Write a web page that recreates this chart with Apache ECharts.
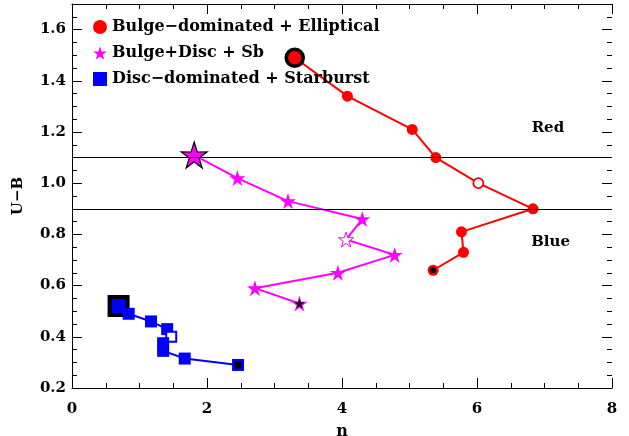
<!DOCTYPE html>
<html>
<head>
<meta charset="utf-8">
<script src="https://cdn.jsdelivr.net/npm/echarts@6/dist/echarts.min.js"></script>
<style>
  html, body { margin: 0; padding: 0; background: #fff; }
  #chart { width: 629px; height: 436px; }
</style>
</head>
<body>
<div id="chart"></div>
<script>
// data
const seriesNames = ['Bulge−dominated + Elliptical', 'Bulge+Disc + Sb', 'Disc−dominated + Starburst'];
const ellN = [3.30, 4.08, 5.04, 5.39, 6.02, 6.83, 5.77, 5.80, 5.35];
const ellUB = [1.49, 1.34, 1.21, 1.10, 1.00, 0.90, 0.81, 0.73, 0.66];
const sbN = [1.81, 2.45, 3.20, 4.30, 4.06, 4.78, 3.94, 2.71, 3.37];
const sbUB = [1.11, 1.02, 0.93, 0.86, 0.78, 0.72, 0.65, 0.59, 0.53];
const burstN = [0.69, 0.84, 1.17, 1.41, 1.47, 1.35, 1.35, 1.67, 2.46];
const burstUB = [0.52, 0.49, 0.46, 0.43, 0.40, 0.375, 0.345, 0.315, 0.29];
const cutLines = [1.1, 0.9];
const zoneNames = ['Red', 'Blue'];

const FONT = 'DejaVu Serif';
const STAR = 'path://M50 0 L61.17 34.63 L97.55 34.55 L68.07 55.87 L79.39 90.45 L50 69 L20.61 90.45 L31.93 55.87 L2.45 34.55 L38.83 34.63 Z';

const chart = echarts.init(document.getElementById('chart'));

// one track: big first point, one open point, black-centred last point
function track(name, xs, ys, color, symbol, size, sty) {
    const last = xs.length - 1;
    const data = xs.map((x, i) => {
        const d = { value: [x, ys[i]] };
        if (i === 0) {
            d.symbolSize = sty.bigSize;
            d.itemStyle = { color: color, borderColor: '#000', borderWidth: sty.bigBorder };
        } else if (i === 4) {
            d.symbolSize = sty.openSize;
            d.itemStyle = { color: '#fff', borderColor: color, borderWidth: sty.openBorder };
        }
        return d;
    });
    return [
        {
            name: name,
            type: 'line',
            data: data,
            symbol: symbol,
            symbolSize: size,
            showAllSymbol: true,
            itemStyle: { color: color, opacity: 1 },
            lineStyle: { color: color, width: 2 },
            z: 3
        },
        {
            name: name + ' end',
            type: 'scatter',
            data: [[xs[last], ys[last]]],
            symbol: symbol,
            symbolSize: sty.dotSize,
            itemStyle: { color: '#000', opacity: 1 },
            silent: true,
            z: 4
        }
    ];
}

const ell = track(seriesNames[0], ellN, ellUB, '#ff0000', 'circle', 11,
    { bigSize: 17, bigBorder: 3.5, openSize: 10, openBorder: 1.8, dotSize: 6 });
const sb = track(seriesNames[1], sbN, sbUB, '#ff00ff', STAR, 16,
    { bigSize: 26, bigBorder: 1.2, openSize: 15, openBorder: 1, dotSize: 10 });
const burst = track(seriesNames[2], burstN, burstUB, '#0000ff', 'rect', 12,
    { bigSize: 18, bigBorder: 4, openSize: 10, openBorder: 2, dotSize: 7 });

// horizontal cuts and the Red / Blue words
ell[0].markLine = {
    silent: true,
    symbol: ['none', 'none'],
    label: { show: false },
    lineStyle: { color: '#000', width: 1, type: 'solid' },
    data: cutLines.map(v => ({ yAxis: v }))
};
ell[0].markPoint = {
    silent: true,
    symbol: 'circle',
    symbolSize: 0,
    label: {
        show: true, position: 'inside', color: '#000',
        fontFamily: FONT, fontWeight: 'bold', fontSize: 15, formatter: p => p.name
    },
    data: [
        { name: zoneNames[0], coord: [7.05, 1.215] },
        { name: zoneNames[1], coord: [7.09, 0.77] }
    ]
};

const tickLine = { color: '#000', width: 1 };
const txt = { color: '#000', fontFamily: FONT, fontWeight: 'bold', fontSize: 15 };

function yAx(pos, step, len, labels) {
    return {
        type: 'value',
        position: pos,
        min: 0.2,
        max: 1.7,
        interval: step,
        axisLine: { show: labels, lineStyle: { color: '#000', width: 1 } },
        axisTick: { show: true, inside: true, length: len, lineStyle: tickLine },
        axisLabel: Object.assign({
            show: labels, showMaxLabel: false, margin: 6,
            formatter: v => v.toFixed(1)
        }, txt),
        splitLine: { show: false },
        name: labels ? 'U−B' : '',
        nameLocation: 'middle',
        nameGap: 46,
        nameTextStyle: txt
    };
}

function xAx(pos, labels) {
    return {
        type: 'value',
        position: pos,
        min: 0,
        max: 8,
        interval: 2,
        axisLine: { show: true, lineStyle: { color: '#000', width: 1 } },
        axisTick: { show: true, inside: true, length: 10, lineStyle: tickLine },
        minorTick: { show: true, splitNumber: 4, length: 5, lineStyle: tickLine },
        axisLabel: Object.assign({ show: labels, margin: 14 }, txt),
        splitLine: { show: false },
        name: labels ? 'n' : '',
        nameLocation: 'middle',
        nameGap: 36,
        nameTextStyle: Object.assign({}, txt, { fontSize: 16 })
    };
}

const option = {
    animation: false,
    backgroundColor: '#fff',
    grid: { left: 72, right: 17, top: 4, bottom: 48, outerBoundsMode: 'none', containLabel: false },
    xAxis: [xAx('bottom', true), xAx('top', false)],
    yAxis: [
        yAx('left', 0.2, 10, true),
        yAx('left', 0.05, 5, false),
        yAx('right', 0.2, 10, false),
        yAx('right', 0.05, 5, false)
    ],
    legend: {
        orient: 'vertical',
        left: 88,
        top: 14,
        itemWidth: 14,
        itemHeight: 14,
        itemGap: 10,
        selectedMode: false,
        textStyle: Object.assign({}, txt, { fontSize: 16, lineHeight: 16 }),
        data: [
            { name: seriesNames[0], icon: 'circle' },
            { name: seriesNames[1], icon: STAR },
            { name: seriesNames[2], icon: 'rect' }
        ]
    },
    series: [...ell, ...sb, ...burst]
};

chart.setOption(option);
</script>
</body>
</html>
